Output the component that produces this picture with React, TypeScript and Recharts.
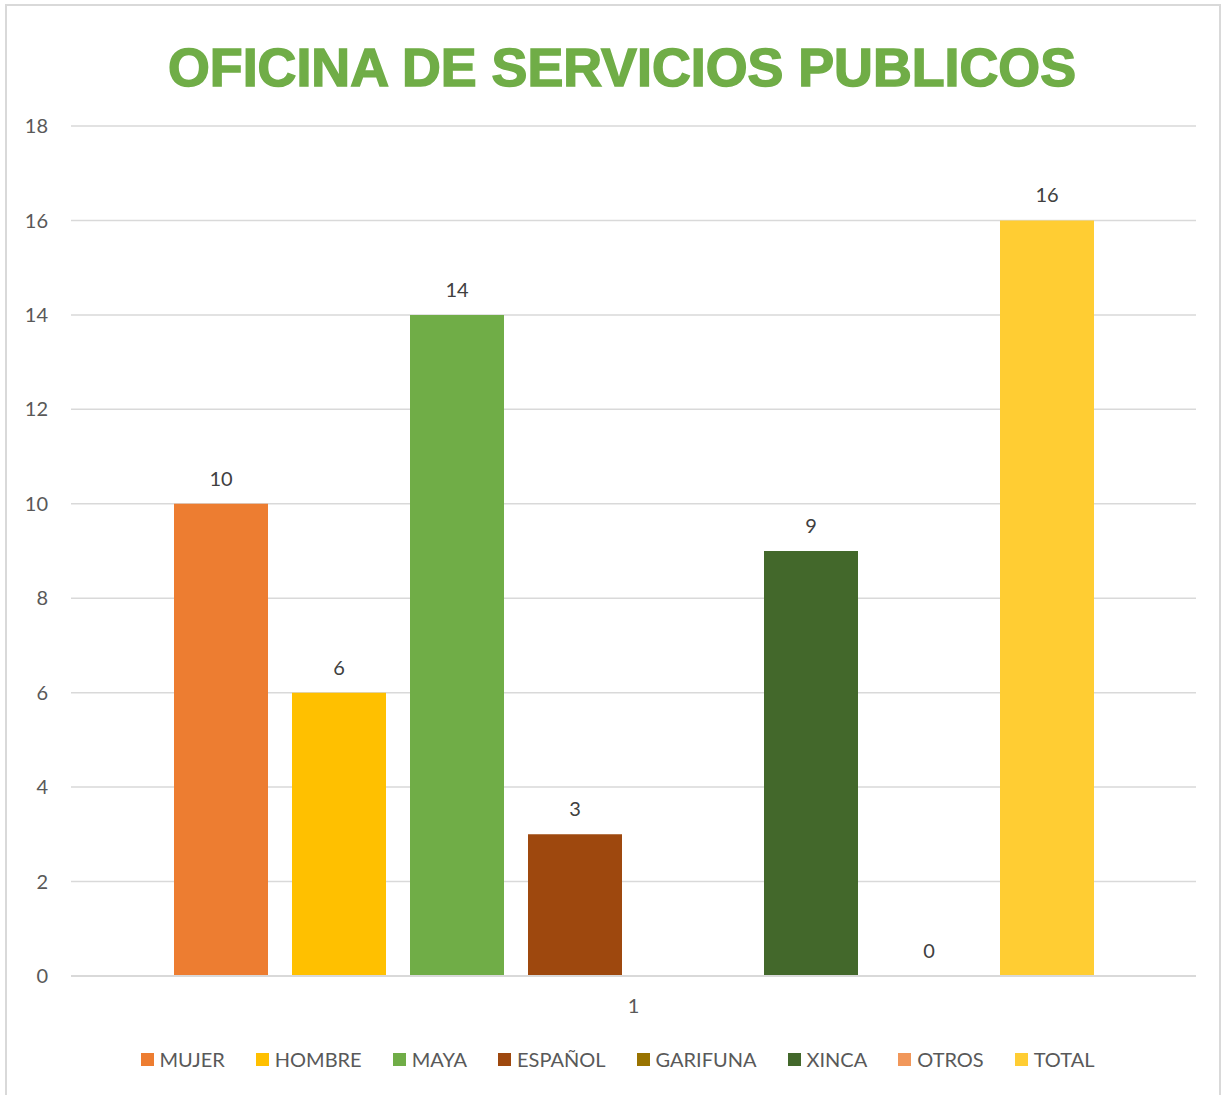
import React from 'react';
import { BarChart, Bar, XAxis, YAxis, CartesianGrid, LabelList } from 'recharts';

const title = 'OFICINA DE SERVICIOS PUBLICOS';
const categories = ['1'];
const seriesNames = ['MUJER', 'HOMBRE', 'MAYA', 'ESPAÑOL', 'GARIFUNA', 'XINCA', 'OTROS', 'TOTAL'];
const seriesValues: (number | null)[] = [10, 6, 14, 3, null, 9, 0, 16];
const seriesColors = ['#ED7D31', '#FFC000', '#70AD47', '#9E480E', '#997300', '#43682B', '#F1975A', '#FFCD33'];
const yTicks = [0, 2, 4, 6, 8, 10, 12, 14, 16, 18];

const data = categories.map((c) => {
  const row: Record<string, string | number | null> = { name: c };
  seriesNames.forEach((s, i) => {
    row[s] = seriesValues[i];
  });
  return row;
});

const FONT = 'Lato, "Open Sans", sans-serif';

export default function App() {
  return (
    <div style={{ position: 'absolute', left: 0, top: 0, width: 1225, height: 1095, background: '#fff', overflow: 'hidden' }}>
      <div
        style={{
          position: 'absolute',
          left: 5,
          top: 4,
          width: 1216,
          height: 1100,
          border: '2px solid #D9D9D9',
          boxSizing: 'border-box',
        }}
      />
      <div style={{ position: 'absolute', left: 0, top: 0 }}>
        <BarChart
          width={1225}
          height={1095}
          data={data}
          margin={{ top: 126, right: 29, bottom: 89, left: 0 }}
          barSize={94}
          barGap={24}
        >
          <CartesianGrid vertical={false} stroke="#D9D9D9" strokeWidth={1.5} />
          <XAxis
            dataKey="name"
            height={30}
            axisLine={{ stroke: '#D9D9D9', strokeWidth: 2 }}
            tickLine={false}
            tickMargin={17}
            tick={{ fill: '#595959', fontSize: 20, fontFamily: FONT }}
          />
          <YAxis
            width={71}
            domain={[0, 18]}
            ticks={yTicks}
            axisLine={false}
            tickLine={false}
            tickMargin={17}
            tick={{ fill: '#595959', fontSize: 20, fontFamily: FONT }}
          />
          {seriesNames.map((s, i) => (
            <Bar key={s} dataKey={s} fill={seriesColors[i]} isAnimationActive={false} minPointSize={0.01}>
              <LabelList dataKey={s} position="top" offset={18} fill="#404040" fontSize={20} fontFamily={FONT} />
            </Bar>
          ))}
        </BarChart>
      </div>
      <div
        style={{
          position: 'absolute',
          left: 0,
          top: 1047,
          width: 1225,
          display: 'flex',
          justifyContent: 'center',
          alignItems: 'center',
          fontFamily: FONT,
          fontSize: 20,
          color: '#595959',
          paddingLeft: 10,
          boxSizing: 'border-box',
        }}
      >
        {seriesNames.map((s, i) => (
          <div key={s} style={{ display: 'flex', alignItems: 'center', marginRight: i < seriesNames.length - 1 ? 31 : 0 }}>
            <span style={{ width: 13, height: 13, background: seriesColors[i], display: 'inline-block', marginRight: 6 }} />
            <span>{s}</span>
          </div>
        ))}
      </div>
      <svg width={1225} height={110} style={{ position: 'absolute', left: 0, top: 0 }}>
        <text
          x={622}
          y={86}
          textAnchor="middle"
          fill="#70AD47"
          fontFamily='"Liberation Sans", Arial, sans-serif'
          fontWeight={900}
          fontSize={53}
          textLength={908}
          lengthAdjust="spacingAndGlyphs"
          stroke="#70AD47"
          strokeWidth={1.5}
        >
          {title}
        </text>
      </svg>
    </div>
  );
}
